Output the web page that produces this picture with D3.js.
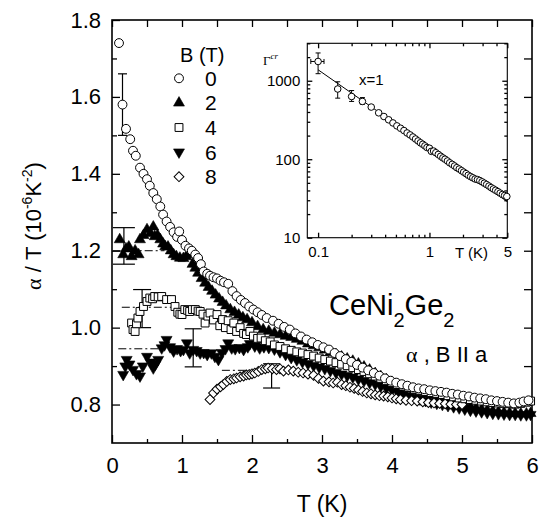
<!DOCTYPE html>
<html><head><meta charset="utf-8">
<script src="https://cdn.jsdelivr.net/npm/d3@7"></script>
<style>body{margin:0;background:#fff;} text{font-family:"Liberation Sans",Arial,sans-serif;fill:#000;}</style>
</head><body><svg id="c" width="539" height="518"></svg>
<script>
// ---------- data ----------
const xTicks = [0,1,2,3,4,5,6];
const xMinor = [0.5,1.5,2.5,3.5,4.5,5.5];
const xTopTicks = [0,0.5,1,1.5,2,2.5,3,3.5,4,4.5,5,5.5,6];
const yTicks = [0.8,1.0,1.2,1.4,1.6,1.8];
const yMinor = [0.9,1.1,1.3,1.5,1.7];
const yRightTicks = [0.8,0.9,1.0,1.1,1.2,1.3,1.4,1.5,1.6,1.7];
const fields = ["0","2","4","6","8"];

const T_B0 = [0.10,0.15,0.20,0.26,0.30,0.34,0.40,0.45,0.50,0.54,0.59,0.64,0.69,0.73,0.78,0.83,0.88,0.93,0.96,1.00,1.05,1.10,1.14,1.19,1.23,1.27,1.31,1.36,1.40,1.45,1.50,1.55,1.60,1.66,1.72,1.78,1.84,1.90,1.96,2.02,2.08,2.14,2.21,2.30,2.38,2.46,2.54,2.62,2.70,2.78,2.86,2.94,3.02,3.10,3.18,3.26,3.34,3.42,3.50,3.58,3.66,3.74,3.82,3.90,3.98,4.06,4.14,4.22,4.30,4.38,4.46,4.54,4.62,4.70,4.78,4.86,4.94,5.02,5.10,5.18,5.26,5.34,5.42,5.50,5.58,5.66,5.74,5.82,5.88,5.95];
const A_B0 = [1.74,1.58,1.517,1.49,1.46,1.447,1.416,1.40,1.386,1.369,1.35,1.334,1.315,1.294,1.276,1.262,1.248,1.236,1.25,1.228,1.213,1.206,1.20,1.19,1.181,1.165,1.146,1.14,1.135,1.131,1.128,1.122,1.118,1.114,1.095,1.082,1.072,1.064,1.055,1.047,1.04,1.033,1.025,1.018,1.01,1.002,0.995,0.985,0.977,0.969,0.962,0.955,0.949,0.943,0.934,0.926,0.918,0.911,0.903,0.896,0.889,0.882,0.875,0.868,0.862,0.857,0.853,0.849,0.845,0.842,0.84,0.837,0.835,0.833,0.831,0.828,0.826,0.823,0.821,0.818,0.816,0.814,0.811,0.809,0.807,0.805,0.803,0.805,0.808,0.811];

const T_B2 = [0.11,0.16,0.20,0.24,0.28,0.33,0.38,0.40,0.45,0.50,0.55,0.59,0.61,0.65,0.69,0.73,0.76,0.80,0.84,0.88,0.92,0.97,1.02,1.06,1.11,1.15,1.19,1.23,1.28,1.33,1.38,1.43,1.48,1.53,1.58,1.63,1.69,1.75,1.81,1.87,1.93,2.00,2.08,2.16,2.24,2.32,2.40,2.48,2.56,2.64,2.72,2.80,2.88,2.96,3.04,3.12,3.20,3.28,3.36,3.44,3.52,3.60,3.68,3.76,3.84,3.92,4.00,4.08,4.16,4.24,4.32,4.40,4.48,4.56,4.64,4.72,4.80,4.88,4.96,5.04,5.12,5.20,5.28,5.36,5.44,5.52,5.60,5.68,5.76,5.84,5.92,5.98];
const A_B2 = [1.229,1.19,1.205,1.21,1.185,1.20,1.19,1.229,1.24,1.255,1.245,1.262,1.237,1.24,1.229,1.218,1.211,1.21,1.20,1.19,1.185,1.181,1.18,1.185,1.19,1.165,1.155,1.142,1.128,1.116,1.105,1.095,1.085,1.075,1.066,1.057,1.047,1.04,1.033,1.026,1.021,1.013,1.003,0.995,0.991,0.986,0.982,0.978,0.975,0.97,0.965,0.958,0.953,0.948,0.942,0.936,0.93,0.924,0.919,0.913,0.906,0.898,0.89,0.881,0.873,0.865,0.858,0.851,0.845,0.84,0.835,0.831,0.827,0.823,0.819,0.814,0.809,0.805,0.80,0.797,0.794,0.79,0.787,0.785,0.783,0.781,0.779,0.778,0.777,0.776,0.776,0.777];

const T_B4 = [0.28,0.30,0.33,0.35,0.37,0.40,0.45,0.50,0.54,0.58,0.61,0.66,0.71,0.78,0.85,0.90,0.94,0.97,1.00,1.04,1.08,1.11,1.15,1.19,1.23,1.26,1.30,1.33,1.37,1.40,1.45,1.50,1.54,1.58,1.62,1.66,1.70,1.74,1.78,1.83,1.88,1.92,1.97,2.02,2.08,2.13,2.19,2.26,2.32,2.40,2.48,2.56,2.64,2.72,2.80,2.88,2.96,3.04,3.12,3.20,3.28,3.36,3.44,3.52,3.60,3.68,3.76,3.84,3.92,4.00,4.08,4.16,4.24,4.32,4.40,4.48,4.56,4.64,4.72,4.80,4.88,4.96,5.04,5.12,5.20,5.28,5.36,5.44,5.52,5.60,5.68,5.76,5.84,5.92,5.98];
const A_B4 = [1.012,0.995,0.99,1.01,1.025,1.042,1.055,1.068,1.077,1.075,1.081,1.08,1.081,1.073,1.073,1.055,1.04,1.035,1.034,1.047,1.045,1.042,1.047,1.047,1.043,1.042,1.035,1.012,1.03,1.038,1.02,1.034,1.005,1.021,1.0,1.018,0.995,1.012,0.99,1.0,0.985,0.982,0.99,0.978,0.972,0.973,0.966,0.963,0.955,0.951,0.945,0.941,0.937,0.934,0.93,0.926,0.921,0.917,0.913,0.909,0.905,0.901,0.896,0.891,0.886,0.88,0.874,0.868,0.862,0.857,0.852,0.848,0.844,0.84,0.837,0.834,0.831,0.829,0.826,0.823,0.82,0.817,0.815,0.813,0.811,0.809,0.807,0.805,0.804,0.803,0.802,0.801,0.803,0.806,0.809];

const T_B6 = [0.16,0.19,0.21,0.25,0.30,0.35,0.40,0.44,0.50,0.55,0.59,0.62,0.66,0.71,0.75,0.78,0.83,0.88,0.93,0.98,1.02,1.07,1.11,1.16,1.21,1.26,1.31,1.36,1.42,1.47,1.52,1.57,1.62,1.66,1.71,1.76,1.82,1.88,1.94,1.97,2.04,2.11,2.17,2.24,2.32,2.40,2.48,2.56,2.64,2.72,2.80,2.88,2.96,3.04,3.12,3.20,3.28,3.36,3.44,3.52,3.60,3.68,3.76,3.84,3.92,4.00,4.08,4.16,4.24,4.32,4.40,4.48,4.56,4.64,4.72,4.80,4.88,4.96,5.04,5.12,5.20,5.28,5.36,5.44,5.52,5.60,5.68,5.76,5.84,5.92,5.98];
const A_B6 = [0.878,0.90,0.917,0.905,0.891,0.88,0.874,0.90,0.925,0.91,0.895,0.905,0.917,0.947,0.955,0.969,0.95,0.939,0.945,0.94,0.943,0.96,0.934,0.943,0.94,0.934,0.935,0.93,0.934,0.925,0.917,0.935,0.945,0.96,0.947,0.945,0.948,0.943,0.95,0.958,0.952,0.947,0.95,0.948,0.944,0.937,0.93,0.922,0.916,0.911,0.906,0.901,0.897,0.893,0.888,0.883,0.879,0.875,0.871,0.866,0.862,0.857,0.853,0.848,0.843,0.838,0.832,0.827,0.822,0.818,0.814,0.81,0.806,0.803,0.80,0.797,0.794,0.791,0.788,0.785,0.783,0.781,0.779,0.777,0.776,0.775,0.774,0.774,0.773,0.773,0.774];

const T_B8 = [1.40,1.45,1.50,1.55,1.59,1.64,1.69,1.74,1.78,1.83,1.88,1.92,1.96,2.00,2.04,2.09,2.14,2.19,2.23,2.29,2.35,2.40,2.45,2.52,2.59,2.66,2.73,2.80,2.88,2.95,3.02,3.10,3.16,3.22,3.28,3.34,3.40,3.46,3.52,3.58,3.64,3.70,3.76,3.82,3.88,3.94,4.00,4.06,4.12,4.20,4.28,4.36,4.44,4.52,4.60,4.68,4.76,4.84,4.92,5.00];
const A_B8 = [0.813,0.83,0.84,0.846,0.852,0.86,0.865,0.867,0.869,0.872,0.874,0.877,0.878,0.88,0.882,0.886,0.891,0.893,0.895,0.893,0.891,0.893,0.887,0.89,0.887,0.884,0.882,0.879,0.876,0.868,0.861,0.859,0.856,0.858,0.852,0.849,0.845,0.842,0.838,0.834,0.83,0.828,0.825,0.823,0.822,0.82,0.817,0.815,0.813,0.811,0.81,0.809,0.807,0.805,0.804,0.803,0.802,0.801,0.80,0.80];

// error bars (B = 0,2,4,6,8)
const errT  = [0.15, 0.17, 0.43, 1.16, 2.28];
const errLo = [1.50, 1.165, 1.0, 0.898, 0.843];
const errHi = [1.66, 1.26, 1.099, 0.997, 0.906];
// dash-dot reference levels (B = 2,4,6,8)
const refLevel = [1.20, 1.053, 0.945, 0.889];
const refFrom  = [0.01, 0.14, 0.09, 1.57];
const refTo    = [0.75, 0.92, 0.69, 2.30];

// inset
const insetT = [0.10,0.15,0.20,0.25,0.30,0.35,0.39,0.43,0.47,0.51,0.55,0.59,0.63,0.67,0.71,0.75,0.79,0.83,0.87,0.91,0.95,1.00,1.04,1.09,1.14,1.20,1.26,1.32,1.38,1.45,1.52,1.60,1.68,1.76,1.85,1.94,2.03,2.13,2.23,2.34,2.45,2.57,2.70,2.83,2.97,3.11,3.26,3.42,3.58,3.75,3.93,4.12,4.31,4.52,4.73,4.95];
const insetG = [1760,785,630,545,462,390,350,318,290,266,248,232,216,204,192,181,171,162,155,148,141,138,126,127,121,115,109,104,100,95,90,86,82,78,75,71.5,68.5,65.5,62.5,60,58,56,55,53.5,51.5,49.5,47.5,45.5,43.5,41.8,40.2,38.6,37,35.5,34.5,33.5];
const insetErrT  = [0.10, 0.15, 0.20, 0.25];
const insetErrLo = [1230, 600, 545, 500];
const insetErrHi = [2260, 970, 750, 610];
const insetXErr = [0.086, 0.113]; // horizontal bar on first point
const fitT = [0.1, 5];
const fitG = [1380, 28.8];
const insetXTicks = [0.1, 1, 5];
const insetXLabels = ["0.1", "1", "5"];
const insetXMinor = [0.2,0.3,0.4,0.5,0.6,0.7,0.8,0.9,2,3,4];
const insetYTicks = [10, 100, 1000];
const insetYLabels = ["10", "100", "1000"];
const insetYMinor = [20,30,40,50,60,70,80,90,200,300,400,500,600,700,800,900,2000,3000];

// ---------- drawing ----------
const svg = d3.select("#c");
const L = 112, R = 532, TOP = 20, BOT = 443;
const x = d3.scaleLinear().domain([0,6]).range([L,R]);
const y = d3.scaleLinear().domain([0.7,1.8]).range([BOT,TOP]);

function styleAxis(g, fs){
  g.select(".domain").remove();
  g.selectAll("line").attr("stroke","#000").attr("stroke-width",1.3);
  g.selectAll("text").attr("fill","#000").style("font-size", fs+"px")
   .style("font-family","'Liberation Sans',Arial,sans-serif");
}

svg.append("g").attr("transform",`translate(0,${BOT})`)
  .call(d3.axisBottom(x).tickValues(xTicks).tickSizeInner(-8).tickSizeOuter(0).tickPadding(14).tickFormat(d3.format("d")))
  .call(g=>styleAxis(g,22));
svg.append("g").attr("transform",`translate(0,${BOT})`)
  .call(d3.axisBottom(x).tickValues(xMinor).tickSizeInner(-4).tickSizeOuter(0).tickFormat(""))
  .call(g=>styleAxis(g,22));
svg.append("g").attr("transform",`translate(${L},0)`)
  .call(d3.axisLeft(y).tickValues(yTicks).tickSizeInner(-8).tickSizeOuter(0).tickPadding(11).tickFormat(d3.format(".1f")))
  .call(g=>styleAxis(g,22));
svg.append("g").attr("transform",`translate(${L},0)`)
  .call(d3.axisLeft(y).tickValues(yMinor).tickSizeInner(-5).tickSizeOuter(0).tickFormat(""))
  .call(g=>styleAxis(g,22));
svg.append("g").attr("transform",`translate(0,${TOP})`)
  .call(d3.axisTop(x).tickValues(xTopTicks).tickSizeInner(-7).tickSizeOuter(0).tickFormat(""))
  .call(g=>styleAxis(g,22));
svg.append("g").attr("transform",`translate(${R},0)`)
  .call(d3.axisRight(y).tickValues(yRightTicks).tickSizeInner(-8).tickSizeOuter(0).tickFormat(""))
  .call(g=>styleAxis(g,22));

svg.append("rect").attr("x",L).attr("y",TOP).attr("width",R-L).attr("height",BOT-TOP)
  .attr("fill","none").attr("stroke","#000").attr("stroke-width",1.6);

// axis titles
svg.append("text").attr("x",(L+R)/2).attr("y",512).attr("text-anchor","middle")
  .style("font-size","23px").text("T (K)");
const yt = svg.append("text").attr("transform","translate(41,226) rotate(-90)")
  .attr("text-anchor","middle").style("font-size","22px");
yt.append("tspan").style("font-family","'Liberation Serif',serif").text("α");
yt.append("tspan").text(" / T (10");
yt.append("tspan").attr("dy",-9).style("font-size","14px").text("-6");
yt.append("tspan").attr("dy",9).text("K");
yt.append("tspan").attr("dy",-9).style("font-size","14px").text("-2");
yt.append("tspan").attr("dy",9).text(")");

// dash-dot reference lines
const line = d3.line().x(d=>x(d[0])).y(d=>y(d[1]));
refLevel.forEach((v,i)=>{
  svg.append("path").attr("d", line([[refFrom[i],v],[refTo[i],v]]))
    .attr("stroke","#000").attr("stroke-width",1).attr("fill","none")
    .attr("stroke-dasharray","8,3,2,3");
});

// error bars
const capW = [9,22,18,17,17];
errT.forEach((t,i)=>{
  const g = svg.append("g").attr("stroke","#000").attr("stroke-width",1.2);
  g.append("line").attr("x1",x(t)).attr("x2",x(t)).attr("y1",y(errLo[i])).attr("y2",y(errHi[i]));
  [errLo[i],errHi[i]].forEach(v=>g.append("line").attr("x1",x(t)-capW[i]/2).attr("x2",x(t)+capW[i]/2).attr("y1",y(v)).attr("y2",y(v)));
});

// symbols
const symDefs = {
  "0": {type:d3.symbolCircle,  size:62, fill:"#fff", rot:0},
  "2": {type:d3.symbolTriangle,size:52, fill:"#000", rot:0},
  "4": {type:d3.symbolSquare,  size:62, fill:"#fff", rot:0},
  "6": {type:d3.symbolTriangle,size:52, fill:"#000", rot:180},
  "8": {type:d3.symbolSquare,  size:48, fill:"#fff", rot:45}
};
const seriesData = {
  "0": d3.zip(T_B0, A_B0), "2": d3.zip(T_B2, A_B2), "4": d3.zip(T_B4, A_B4),
  "6": d3.zip(T_B6, A_B6), "8": d3.zip(T_B8, A_B8)
};
function drawSym(sel, key){
  const s = symDefs[key];
  sel.attr("d", d3.symbol(s.type, s.size)).attr("fill", s.fill).attr("stroke","#000")
     .attr("stroke-width", s.fill==="#000"?0.6:1);
}
["2","6","8","4","0"].forEach(k=>{
  svg.append("g").selectAll("path").data(seriesData[k]).join("path")
    .call(drawSym, k)
    .attr("transform", d=>`translate(${x(d[0])},${y(d[1])}) rotate(${symDefs[k].rot})`);
});

// legend
svg.append("text").attr("x",180).attr("y",62).style("font-size","20px").text("B (T)");
fields.forEach((f,i)=>{
  const cy = 78.3 + i*24.6;
  svg.append("path").call(drawSym, f).attr("transform",`translate(179,${cy}) rotate(${symDefs[f].rot})`);
  svg.append("text").attr("x",205).attr("y",cy).attr("dy","0.36em").style("font-size","21px").text(f);
});

// annotations
const ce = svg.append("text").attr("x",329).attr("y",315).style("font-size","29px");
ce.append("tspan").text("CeNi");
ce.append("tspan").attr("dy",12).style("font-size","20px").text("2");
ce.append("tspan").attr("dy",-12).text("Ge");
ce.append("tspan").attr("dy",12).style("font-size","20px").text("2");
const ab = svg.append("text").attr("x",406).attr("y",362).style("font-size","22px");
ab.append("tspan").style("font-family","'Liberation Serif',serif").text("α");
ab.append("tspan").text(" , B II a");

// ---------- inset ----------
const IL = 307.3, IR = 507.3, IT = 43.3, IB = 237.7;
const ix = d3.scaleLog().domain([0.08,5]).range([IL,IR]);
const iy = d3.scaleLog().domain([10,3000]).range([IB,IT]);
svg.append("rect").attr("x",IL).attr("y",IT).attr("width",IR-IL).attr("height",IB-IT)
  .attr("fill","#fff").attr("stroke","none");
svg.append("g").attr("transform",`translate(0,${IB})`)
  .call(d3.axisBottom(ix).tickValues(insetXTicks).tickSizeInner(-5).tickSizeOuter(0).tickPadding(9).tickFormat((d,i)=>insetXLabels[i]))
  .call(g=>styleAxis(g,15));
svg.append("g").attr("transform",`translate(0,${IB})`)
  .call(d3.axisBottom(ix).tickValues(insetXMinor).tickSizeInner(-3).tickSizeOuter(0).tickFormat(""))
  .call(g=>styleAxis(g,15));
svg.append("g").attr("transform",`translate(0,${IT})`)
  .call(d3.axisTop(ix).tickValues(insetXTicks).tickSizeInner(-5).tickSizeOuter(0).tickFormat(""))
  .call(g=>styleAxis(g,15));
svg.append("g").attr("transform",`translate(0,${IT})`)
  .call(d3.axisTop(ix).tickValues(insetXMinor).tickSizeInner(-3).tickSizeOuter(0).tickFormat(""))
  .call(g=>styleAxis(g,15));
svg.append("g").attr("transform",`translate(${IL},0)`)
  .call(d3.axisLeft(iy).tickValues(insetYTicks).tickSizeInner(-5).tickSizeOuter(0).tickPadding(7).tickFormat((d,i)=>insetYLabels[i]))
  .call(g=>styleAxis(g,15));
svg.append("g").attr("transform",`translate(${IL},0)`)
  .call(d3.axisLeft(iy).tickValues(insetYMinor).tickSizeInner(-3).tickSizeOuter(0).tickFormat(""))
  .call(g=>styleAxis(g,15));
svg.append("g").attr("transform",`translate(${IR},0)`)
  .call(d3.axisRight(iy).tickValues(insetYTicks).tickSizeInner(-5).tickSizeOuter(0).tickFormat(""))
  .call(g=>styleAxis(g,15));
svg.append("g").attr("transform",`translate(${IR},0)`)
  .call(d3.axisRight(iy).tickValues(insetYMinor).tickSizeInner(-3).tickSizeOuter(0).tickFormat(""))
  .call(g=>styleAxis(g,15));
svg.selectAll("g").filter(function(){return false;});
svg.append("rect").attr("x",IL).attr("y",IT).attr("width",IR-IL).attr("height",IB-IT)
  .attr("fill","none").attr("stroke","#000").attr("stroke-width",1.1);

// fit line
svg.append("path").attr("d", d3.line().x(d=>ix(d[0])).y(d=>iy(d[1]))(d3.zip(fitT,fitG)))
  .attr("stroke","#000").attr("stroke-width",1).attr("fill","none");
// inset error bars
insetErrT.forEach((t,i)=>{
  const g = svg.append("g").attr("stroke","#000").attr("stroke-width",1);
  g.append("line").attr("x1",ix(t)).attr("x2",ix(t)).attr("y1",iy(insetErrLo[i])).attr("y2",iy(insetErrHi[i]));
  [insetErrLo[i],insetErrHi[i]].forEach(v=>g.append("line").attr("x1",ix(t)-2.5).attr("x2",ix(t)+2.5).attr("y1",iy(v)).attr("y2",iy(v)));
});
{
  const g = svg.append("g").attr("stroke","#000").attr("stroke-width",1);
  const yy = iy(insetG[0]);
  g.append("line").attr("x1",ix(insetXErr[0])).attr("x2",ix(insetXErr[1])).attr("y1",yy).attr("y2",yy);
  insetXErr.forEach(t=>g.append("line").attr("x1",ix(t)).attr("x2",ix(t)).attr("y1",yy-2.5).attr("y2",yy+2.5));
}
svg.append("g").selectAll("circle").data(d3.zip(insetT,insetG)).join("circle")
  .attr("cx",d=>ix(d[0])).attr("cy",d=>iy(d[1])).attr("r",3.3)
  .attr("fill","#fff").attr("stroke","#000").attr("stroke-width",1);

svg.append("text").attr("x",359).attr("y",85).style("font-size","15px").text("x=1");
svg.append("text").attr("x",455).attr("y",258).style("font-size","15px").text("T (K)");
const gl = svg.append("text").attr("x",263).attr("y",65);
gl.append("tspan").style("font-family","'Liberation Serif',serif").style("font-size","13px").text("Γ");
gl.append("tspan").attr("dy",-6).style("font-family","'Liberation Serif',serif").style("font-style","italic").style("font-size","9px").text("cr");
</script></body></html>
